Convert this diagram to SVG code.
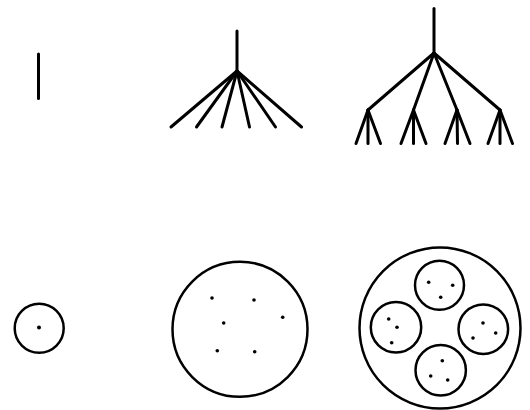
<svg xmlns="http://www.w3.org/2000/svg" width="530" height="410" viewBox="0 0 530 410">
<style>
.l{stroke:#000;stroke-width:3;stroke-linecap:round;fill:none}
.c{stroke:#000;stroke-width:2.5;fill:none}
.d{fill:#000}
</style>
<rect width="530" height="410" fill="#fff"/>
<g id="connectors">
<g id="tree1"><line class="l" x1="38.5" y1="54" x2="38.5" y2="98.5"/></g>
<g id="tree2">
<line class="l" x1="237" y1="31" x2="237" y2="71"/>
<line class="l" x1="237" y1="71" x2="171" y2="127"/>
<line class="l" x1="237" y1="71" x2="196.5" y2="127"/>
<line class="l" x1="237" y1="71" x2="222" y2="127"/>
<line class="l" x1="237" y1="71" x2="249.5" y2="127"/>
<line class="l" x1="237" y1="71" x2="275.5" y2="127"/>
<line class="l" x1="237" y1="71" x2="301.5" y2="127"/>
</g>
<g id="tree3">
<line class="l" x1="434" y1="8.5" x2="434" y2="53"/>
<line class="l" x1="434" y1="53" x2="368" y2="110"/>
<line class="l" x1="434" y1="53" x2="413.5" y2="110"/>
<line class="l" x1="434" y1="53" x2="457" y2="110"/>
<line class="l" x1="434" y1="53" x2="500" y2="110"/>
<line class="l" x1="368" y1="110" x2="356" y2="143.5"/>
<line class="l" x1="368" y1="110" x2="368" y2="143.5"/>
<line class="l" x1="368" y1="110" x2="380.5" y2="143.5"/>
<line class="l" x1="413.5" y1="110" x2="401" y2="143.5"/>
<line class="l" x1="413.5" y1="110" x2="413.5" y2="143.5"/>
<line class="l" x1="413.5" y1="110" x2="426" y2="143.5"/>
<line class="l" x1="457" y1="110" x2="445" y2="143.5"/>
<line class="l" x1="457" y1="110" x2="457.5" y2="143.5"/>
<line class="l" x1="457" y1="110" x2="470" y2="143.5"/>
<line class="l" x1="500" y1="110" x2="488" y2="143.5"/>
<line class="l" x1="500" y1="110" x2="500" y2="143.5"/>
<line class="l" x1="500" y1="110" x2="512.5" y2="143.5"/>
</g>
</g>
<g id="set1">
<circle class="c" cx="39.2" cy="328.3" r="24.5"/>
<circle class="d" cx="39" cy="327.5" r="2"/>
</g>
<g id="set2">
<circle class="c" cx="240" cy="329.3" r="67.5"/>
<circle class="d" cx="212" cy="298" r="1.8"/>
<circle class="d" cx="254" cy="300" r="1.8"/>
<circle class="d" cx="282.7" cy="317.3" r="1.8"/>
<circle class="d" cx="223.7" cy="323" r="1.8"/>
<circle class="d" cx="217.3" cy="350.7" r="1.8"/>
<circle class="d" cx="254.7" cy="351.7" r="1.8"/>
</g>
<g id="set3">
<circle class="c" cx="440" cy="328" r="80.5"/>
<g id="sub-top">
<circle class="c" cx="439.5" cy="285.3" r="24.5"/>
<circle class="d" cx="428.7" cy="282.3" r="1.8"/>
<circle class="d" cx="452.7" cy="285.3" r="1.8"/>
<circle class="d" cx="440.7" cy="297.3" r="1.8"/>
</g>
<g id="sub-left">
<circle class="c" cx="396" cy="327.3" r="25.2"/>
<circle class="d" cx="388.7" cy="319" r="1.8"/>
<circle class="d" cx="397" cy="327.3" r="1.8"/>
<circle class="d" cx="391.7" cy="342.7" r="1.8"/>
</g>
<g id="sub-right">
<circle class="c" cx="483.3" cy="329.2" r="24.8"/>
<circle class="d" cx="483" cy="323" r="1.8"/>
<circle class="d" cx="495.7" cy="333" r="1.8"/>
<circle class="d" cx="473" cy="338" r="1.8"/>
</g>
<g id="sub-bottom">
<circle class="c" cx="440.7" cy="370.3" r="25.2"/>
<circle class="d" cx="442.3" cy="360.7" r="1.8"/>
<circle class="d" cx="430.7" cy="376" r="1.8"/>
<circle class="d" cx="447.7" cy="380" r="1.8"/>
</g>
</g>
</svg>
